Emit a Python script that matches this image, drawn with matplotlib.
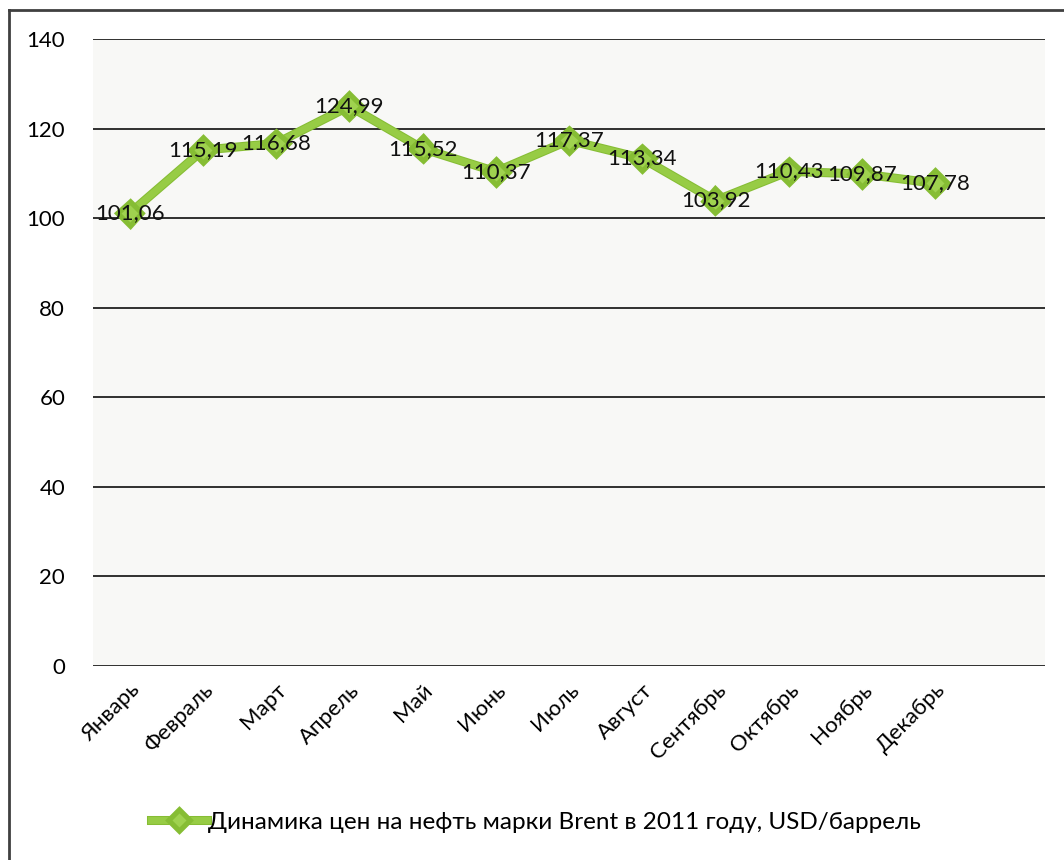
import matplotlib
matplotlib.use("Agg")
import matplotlib.pyplot as plt
import matplotlib.patheffects as pe
from matplotlib.lines import Line2D

plt.rcParams['font.family'] = ['Lato', 'DejaVu Sans']

months = ["Январь", "Февраль", "Март", "Апрель", "Май", "Июнь", "Июль",
          "Август", "Сентябрь", "Октябрь", "Ноябрь", "Декабрь"]
prices = [101.06, 115.19, 116.68, 124.99, 115.52, 110.37, 117.37,
          113.34, 103.92, 110.43, 109.87, 107.78]
yticks = [0, 20, 40, 60, 80, 100, 120, 140]
legend_label = "Динамика цен на нефть марки Brent в 2011 году, USD/баррель"

W, H = 1064, 860
fig = plt.figure(figsize=(W / 100, H / 100), dpi=100)
fig.patch.set_facecolor('white')

# outer frame (top and left visible)
fig.add_artist(Line2D([8.5 / W, 8.5 / W], [0, 1 - 10 / H], transform=fig.transFigure,
                      color='#404040', lw=2))
fig.add_artist(Line2D([8.5 / W, 1], [1 - 10 / H, 1 - 10 / H], transform=fig.transFigure,
                      color='#404040', lw=2))

ax = fig.add_axes([93 / W, 1 - 666 / H, (1045 - 93) / W, (666 - 39) / H])
ax.set_facecolor('#f8f8f6')
for s in ax.spines.values():
    s.set_visible(False)

ax.set_ylim(0, 140)
ax.set_xlim(-0.5, len(months) + 0.5)
ax.set_yticks(yticks)
ax.set_yticklabels([str(v) for v in yticks], fontsize=16)
ax.yaxis.grid(True, color='#202020', lw=1.3)
ax.set_axisbelow(True)
ax.tick_params(axis='y', length=0, pad=20)
ax.tick_params(axis='x', length=0, pad=10)

x = list(range(len(months)))
ax.set_xticks(x)
ax.set_xticklabels(months, rotation=45, ha='right', rotation_mode='anchor', fontsize=16)

line, = ax.plot(x, prices, color='#97cc45', lw=5, marker='D', markersize=10,
                markerfacecolor='#9fd24f', markeredgecolor='#86bd34', markeredgewidth=1,
                solid_joinstyle='miter', label=legend_label, zorder=3,
                path_effects=[pe.Stroke(linewidth=6.5, foreground='#86bd34'), pe.Normal()])

for xi, v in zip(x, prices):
    ax.text(xi, v, f"{v:.2f}".replace('.', ','), ha='center', va='center',
            fontsize=16, color='#111111', zorder=4)

fig.legend(handles=[line], loc='center', bbox_to_anchor=(536 / W, 1 - 822 / H),
           frameon=False, fontsize=17.5, handlelength=2.3, handletextpad=0.05,
           markerscale=0.8)

fig.savefig('out.png', dpi=100, facecolor='white')
